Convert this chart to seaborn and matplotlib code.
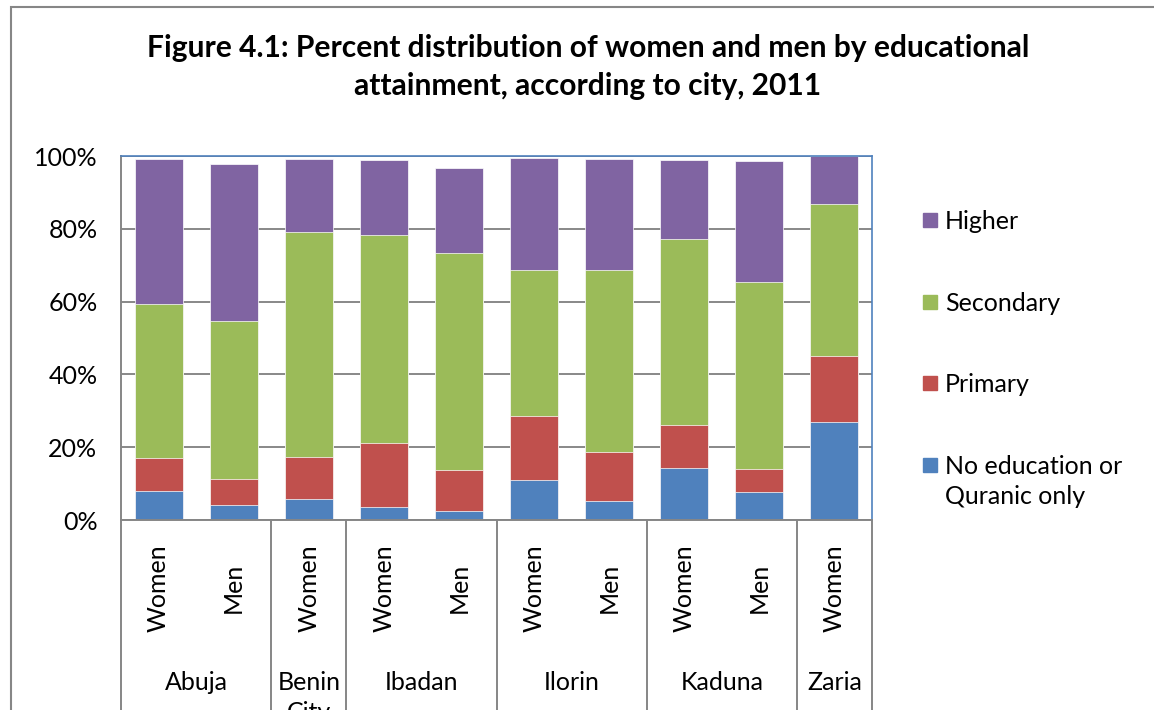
import numpy as np
import pandas as pd
import matplotlib
matplotlib.use("Agg")
import matplotlib.pyplot as plt
import matplotlib.transforms as mtransforms
from matplotlib.patches import Rectangle
import seaborn as sns


cities = ["Abuja", "Benin City", "Ibadan", "Ilorin", "Kaduna", "Zaria"]
city_groups = [["Women", "Men"], ["Women"], ["Women", "Men"], ["Women", "Men"],
               ["Women", "Men"], ["Women"]]

no_education = [8.1, 4.2, 5.9, 3.5, 2.6, 11.0, 5.3, 14.3, 7.7, 27.0]
primary = [8.8, 7.0, 11.5, 17.6, 11.2, 17.5, 13.4, 11.8, 6.2, 18.0]
secondary = [42.5, 43.4, 61.6, 57.1, 59.5, 40.1, 50.1, 51.0, 51.4, 41.7]
higher = [39.7, 43.1, 20.1, 20.7, 23.4, 30.9, 30.3, 21.7, 33.3, 13.3]

series_names = ["No education or\nQuranic only", "Primary", "Secondary", "Higher"]
series_colors = ["#4F81BD", "#C0504D", "#9BBB59", "#8064A2"]
yticks = [0, 20, 40, 60, 80, 100]

# build the table
rows = []
for city, genders in zip(cities, city_groups):
    for g in genders:
        rows.append((city, g))
df = pd.DataFrame(rows, columns=["city", "gender"])
df["bar"] = df["city"] + " " + df["gender"]
df["s0"] = no_education
df["s1"] = df["s0"] + primary
df["s2"] = df["s1"] + secondary
df["s3"] = df["s2"] + higher

sns.set_style("white")
plt.rcParams["font.family"] = ["Lato", "DejaVu Sans"]
plt.rcParams["text.color"] = "black"
plt.rcParams["ytick.color"] = "black"

W, H = 1154, 710
fig = plt.figure(figsize=(W / 100, H / 100), dpi=100)
ax = fig.add_axes([121 / W, 1 - 520 / H, (872 - 121) / W, (520 - 156) / H])

# stacked bars: draw cumulative totals from the top down
for i in [3, 2, 1, 0]:
    sns.barplot(data=df, x="bar", y="s%d" % i, order=list(df["bar"]),
                color=series_colors[i], saturation=1, width=0.64,
                errorbar=None, edgecolor="white", linewidth=0.5, ax=ax)

ax.set_xlim(-0.5, len(df) - 0.5)
ax.set_ylim(0, 100)
ax.set_xlabel("")
ax.set_ylabel("")
ax.set_yticks(yticks)
ax.set_yticklabels(["%d%%" % v for v in yticks], fontsize=18, color="black")
ax.tick_params(axis="y", length=0, pad=17)
ax.set_xticks([])
ax.set_axisbelow(True)
ax.yaxis.grid(True, color="#7F7F7F", lw=1.3)

for side in ["top", "right"]:
    ax.spines[side].set_color("#4F81BD")
    ax.spines[side].set_linewidth(1.2)
for side in ["left", "bottom"]:
    ax.spines[side].set_color("#868686")
    ax.spines[side].set_linewidth(1.4)

# category axis as a table below the plot
trans = mtransforms.blended_transform_factory(ax.transData, ax.transAxes)
ax_h = 520 - 156
for i, g in enumerate(df["gender"]):
    ax.text(i, -(588 - 520) / ax_h, g, rotation=90, ha="center", va="center",
            fontsize=18, transform=trans)

edges = [-0.5]
for genders in city_groups:
    edges.append(edges[-1] + len(genders))
for e in edges:
    ax.plot([e, e], [0, -(720 - 520) / ax_h], color="#868686", lw=1.4,
            transform=trans, clip_on=False)

for k, city in enumerate(cities):
    mid = (edges[k] + edges[k + 1]) / 2
    for j, part in enumerate(city.split(" ")):
        ax.text(mid, -(682 + 31 * j - 520) / ax_h, part, ha="center", va="center",
                fontsize=18, transform=trans)

# legend
legend_y = [465, 383, 302, 220]
for name, color, ly in zip(series_names, series_colors, legend_y):
    fig.patches.append(Rectangle((923 / W, 1 - (ly + 7) / H), 14 / W, 14 / H,
                                 transform=fig.transFigure, color=color))
    fig.text(945 / W, 1 - (ly - 10) / H, name, fontsize=18, va="top",
             ha="left", linespacing=1.38)

fig.text(588 / W, 1 - 67 / H,
         "Figure 4.1: Percent distribution of women and men by educational\n"
         "attainment, according to city, 2011",
         ha="center", va="center", fontsize=21.6, fontweight="bold",
         linespacing=1.45)

# chart area border
fig.patches.append(Rectangle((11 / W, -0.1), 1.2, 1 - 7 / H + 0.1,
                             transform=fig.transFigure, fill=False,
                             edgecolor="#868686", lw=1.5))

fig.savefig("out.png", dpi=100)
